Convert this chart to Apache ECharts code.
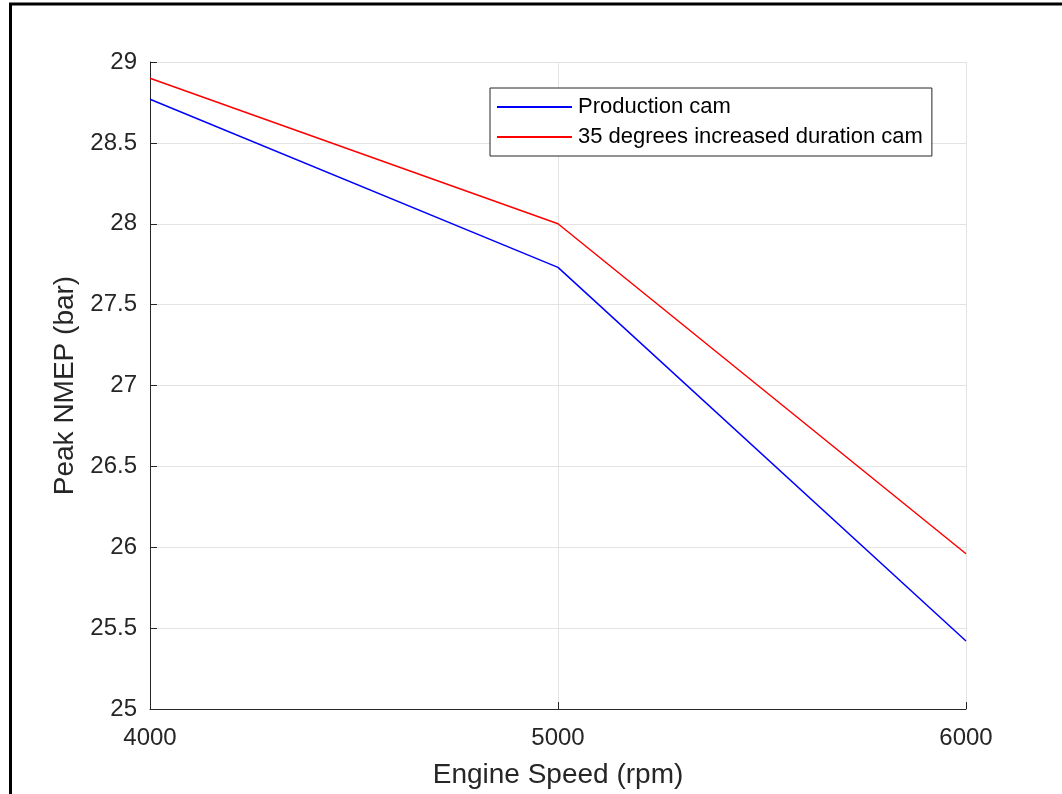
<!DOCTYPE html>
<html>
<head>
<meta charset="utf-8">
<script src="https://cdn.jsdelivr.net/npm/echarts@6/dist/echarts.min.js"></script>
<style>
html,body{margin:0;padding:0;background:#fff;}
#chart{width:1062px;height:794px;}
</style>
</head>
<body>
<div id="chart"></div>
<script>
var engineSpeed = [4000, 5000, 6000];
var productionCam = [28.77, 27.73, 25.42];
var increasedDurationCam = [28.9, 28.0, 25.96];
var seriesNames = ['Production cam', '35 degrees increased duration cam'];
var xTitle = 'Engine Speed (rpm)';
var yTitle = 'Peak NMEP (bar)';

function pairs(xs, ys) { return xs.map(function (x, i) { return [x, ys[i]]; }); }

var FONT = '"Liberation Sans", Arial, Helvetica, sans-serif';
var TXT = '#262626';

var chart = echarts.init(document.getElementById('chart'), null, {renderer: 'canvas'});
chart.setOption({
  backgroundColor: '#ffffff',
  animation: false,
  graphic: [{
    type: 'rect', silent: true,
    shape: {x: 10.5, y: 4, width: 1200, height: 1000},
    style: {fill: 'none', stroke: '#000', lineWidth: 3}
  }],
  grid: {left: 150, right: 96, top: 62, bottom: 85, containLabel: false},
  legend: {
    left: 490, top: 88, orient: 'vertical',
    data: seriesNames,
    icon: 'rect',
    borderColor: TXT, borderWidth: 1, backgroundColor: '#fff',
    padding: [4, 9, 4, 7], itemGap: 0,
    itemWidth: 75, itemHeight: 2,
    textStyle: {fontFamily: FONT, fontSize: 22, color: '#000', lineHeight: 30, padding: [0, 0, 0, 1]}
  },
  xAxis: {
    type: 'value', min: 4000, max: 6000, interval: 1000,
    name: xTitle, nameLocation: 'middle', nameGap: 52,
    nameTextStyle: {fontFamily: FONT, fontSize: 28, color: TXT},
    axisLine: {show: true, lineStyle: {color: TXT, width: 1}},
    axisTick: {show: true, inside: true, length: 7, lineStyle: {color: TXT, width: 1}},
    axisLabel: {fontFamily: FONT, fontSize: 24, color: TXT, margin: 17,
      formatter: function (v) { return String(v); }},
    splitLine: {show: true, lineStyle: {color: '#e3e3e3', width: 1}}
  },
  yAxis: {
    type: 'value', min: 25, max: 29, interval: 0.5,
    name: yTitle, nameLocation: 'middle', nameGap: 64, nameRotate: 90,
    nameTextStyle: {fontFamily: FONT, fontSize: 28, color: TXT},
    axisLine: {show: true, lineStyle: {color: TXT, width: 1}},
    axisTick: {show: true, inside: true, length: 7, lineStyle: {color: TXT, width: 1}},
    axisLabel: {fontFamily: FONT, fontSize: 24, color: TXT, margin: 13, padding: [7, 0, 0, 0]},
    splitLine: {show: true, lineStyle: {color: '#e3e3e3', width: 1}}
  },
  series: [
    {name: seriesNames[0], type: 'line', data: pairs(engineSpeed, productionCam),
     symbol: 'none', lineStyle: {color: '#0000ff', width: 1.5}, itemStyle: {color: '#0000ff'}},
    {name: seriesNames[1], type: 'line', data: pairs(engineSpeed, increasedDurationCam),
     symbol: 'none', lineStyle: {color: '#ff0000', width: 1.5}, itemStyle: {color: '#ff0000'}}
  ]
});
</script>
</body>
</html>
